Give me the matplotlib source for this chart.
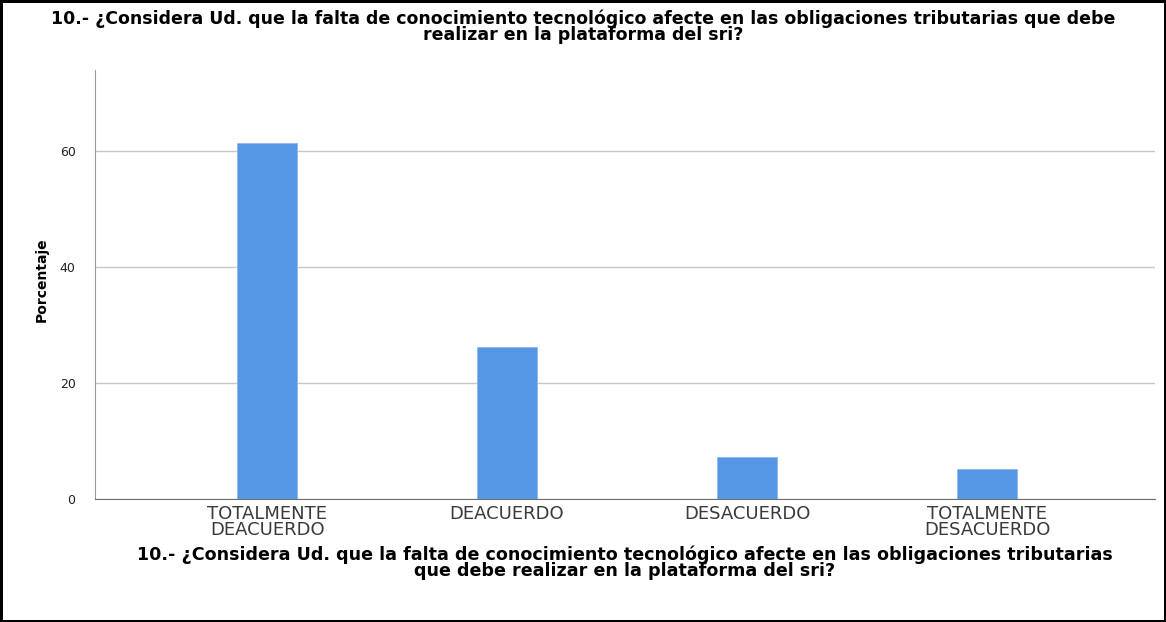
import matplotlib.pyplot as plt
import numpy as np

plt.rcParams['font.family'] = ['DejaVu Sans']

categorias = ["TOTALMENTE\nDEACUERDO", "DEACUERDO", "DESACUERDO", "TOTALMENTE\nDESACUERDO"]
porcentaje = [61.4, 26.2, 7.2, 5.2]
y_ticks = [0, 20, 40, 60]
titulo = "10.- ¿Considera Ud. que la falta de conocimiento tecnológico afecte en las obligaciones tributarias que debe\nrealizar en la plataforma del sri?"
etiqueta_x = "10.- ¿Considera Ud. que la falta de conocimiento tecnológico afecte en las obligaciones tributarias\nque debe realizar en la plataforma del sri?"

fig = plt.figure(figsize=(11.66, 6.22), dpi=100, linewidth=2.2, edgecolor='black')
ax = fig.add_axes([0.0815, 0.1977, 0.909, 0.69])

x = np.arange(len(categorias))
ax.bar(x, porcentaje, width=0.25, color='#5596E5', edgecolor='#8DB8F0', linewidth=0.6, zorder=3)

ax.set_xlim(-0.717, 3.7)
ax.set_ylim(0, 74)
ax.set_yticks(y_ticks)
ax.set_xticks(x)
ax.set_xticklabels(categorias, fontsize=13, color='#3A3A3A', linespacing=0.88)
ax.tick_params(axis='y', length=0, labelsize=9, pad=14, labelcolor='#222222')
ax.tick_params(axis='x', length=0, pad=4)
ax.yaxis.grid(True, color='#C8C8C8', linewidth=1, zorder=0)
ax.set_axisbelow(True)

for s in ['top', 'right']:
    ax.spines[s].set_visible(False)
ax.spines['left'].set_color('#9A9A9A')
ax.spines['bottom'].set_color('#707070')

fig.text(0.036, 0.55, "Porcentaje", rotation=90, ha='center', va='center', fontsize=10, fontweight='bold')
fig.text(0.536, 0.095, etiqueta_x, ha='center', va='center', fontsize=12.6, fontweight='bold', linespacing=0.9)
fig.text(0.5, 0.985, titulo, ha='center', va='top', fontsize=12.5, fontweight='bold', linespacing=0.9)

fig.savefig("out.png", dpi=100, edgecolor=fig.get_edgecolor())
